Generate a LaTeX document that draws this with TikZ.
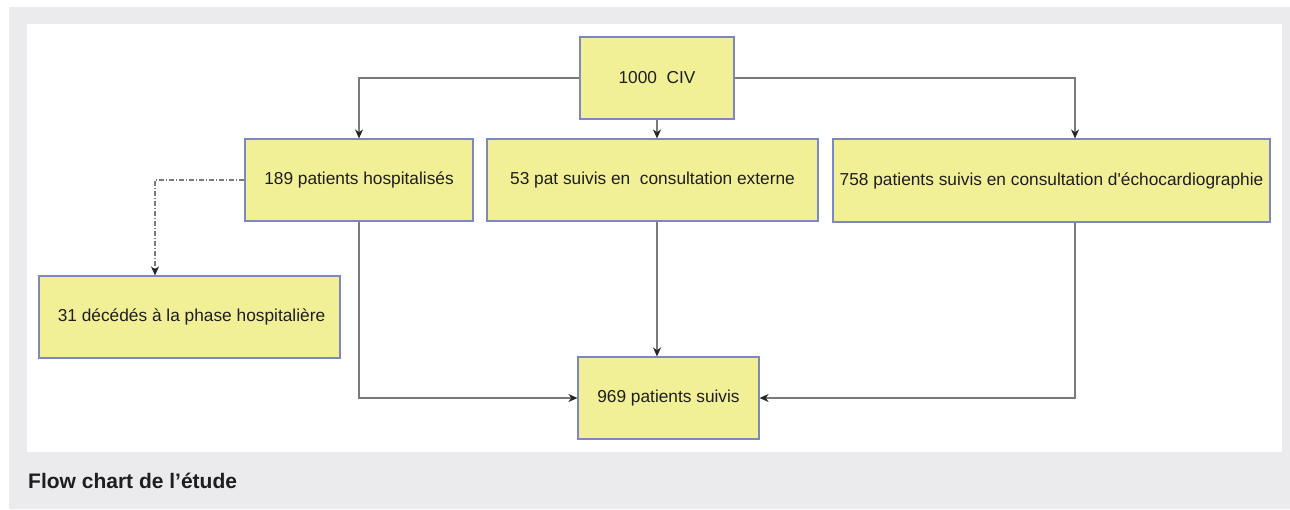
\documentclass[tikz,border=0pt]{standalone}
\usepackage{fontspec}
\setmainfont{Liberation Sans}
\usetikzlibrary{arrows.meta}
\definecolor{panelgrey}{HTML}{EBEBED}
\definecolor{boxfill}{HTML}{F2F097}
\definecolor{boxline}{HTML}{7F87C2}
\definecolor{lineg}{HTML}{7A7A7A}
\definecolor{txt}{HTML}{1E1E1E}
\tikzset{
  flowbox/.style={draw=boxline, line width=1.2pt, fill=boxfill, inner sep=0pt, anchor=center,
    text=txt, font=\fontsize{17.3}{20}\selectfont},
  conn/.style={draw=lineg, line width=1.2pt, -{Stealth[length=9pt,width=8pt,fill=black!85,color=black!85]}},
  dashconn/.style={conn, dash pattern=on 5pt off 2pt on 1pt off 2pt}
}
\begin{document}
\begin{tikzpicture}[x=1pt,y=-1pt]
\useasboundingbox (0,0) rectangle (1290,509);
\fill[panelgrey] (9,7) rectangle (1290,509);
\fill[white] (27,24) rectangle (1282,452);
\node[flowbox, minimum width=154pt, minimum height=82pt] (civ) at (657,78) {1000\ \ CIV};
\node[flowbox, minimum width=228pt, minimum height=82pt] (hosp) at (359,180) {189 patients hospitalisés};
\node[flowbox, minimum width=331pt, minimum height=82pt] (ext) at (652.5,180) {53 pat suivis en\ \ consultation externe};
\node[flowbox, minimum width=437pt, minimum height=83pt] (echo) at (1051.5,180.5) {758 patients suivis en consultation d\textquotesingle échocardiographie};
\node[flowbox, minimum width=301pt, minimum height=82pt] (dec) at (189.5,317) {\hspace*{4pt}31 décédés à la phase hospitalière};
\node[flowbox, minimum width=181pt, minimum height=82pt] (suivi) at (668.5,398) {969 patients suivis};
\node[anchor=west, inner sep=0pt, text=txt, font=\fontsize{21}{24}\selectfont\bfseries] (cap) at (28,481) {Flow chart de l’étude};
\draw[conn] (civ.west) -| (hosp.north);
\draw[conn] (civ.south) -- (civ.south |- ext.north);
\draw[conn] (civ.east) -| ([xshift=23.5pt]echo.north);
\draw[dashconn] (hosp.west) -| ([xshift=-34.5pt]dec.north);
\draw[conn] (hosp.south) |- (suivi.west);
\draw[conn] (civ.south |- ext.south) -- (civ.south |- suivi.north);
\draw[conn] ([xshift=23.5pt]echo.south) |- (suivi.east);
\end{tikzpicture}
\end{document}
